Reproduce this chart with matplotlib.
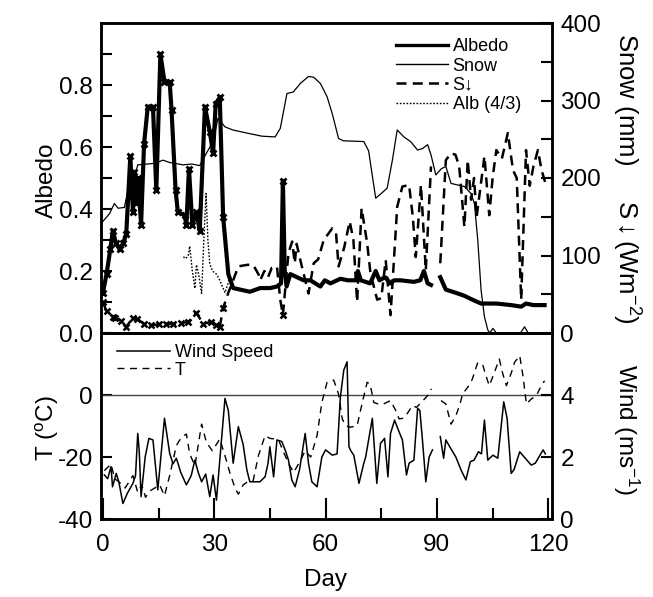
import numpy as np
import matplotlib
matplotlib.use("Agg")
import matplotlib.pyplot as plt
from matplotlib.ticker import MultipleLocator, FixedLocator

plt.rcParams['font.family'] = ['Liberation Sans', 'DejaVu Sans']
plt.rcParams['mathtext.fontset'] = 'custom'
plt.rcParams['mathtext.rm'] = 'Liberation Sans'
plt.rcParams['mathtext.it'] = 'Liberation Sans:italic'
plt.rcParams['mathtext.bf'] = 'Liberation Sans:bold'
plt.rcParams['axes.unicode_minus'] = False

nan = np.nan

# ---------------- data ----------------
alb_day = [0, 1, 2, 2.7, 3.5, 4.5, 5.5, 6.3, 7.4, 8.1, 8.5, 9.0, 9.5, 10.3, 11.1, 12.1,
           13.5, 14.4, 15.5, 16.6, 18.0, 18.5, 19.6, 20.2, 22.0, 22.5, 23.2, 24.1, 25.2,
           26.1, 27.5, 28.8, 29.7, 30.4, 31.5, 32.4, 33.8, 35.1, 37, 39.6, 42.4, 45.1,
           46.9, 48.0, 48.5, 49.0, 49.5, 50.5, 52.3, 54.1, 55.9, 58.6, 59.8, 61.3, 64,
           66, 68.3, 68.7, 69.5, 72, 73.5, 74.5, 76, 77.5, 78.5, 80.2, 83.8, 85.5, 86.5,
           87.5, 88.4, 89.5, 90.9, 92.4, 95, 97.4, 100, 101.9, 106, 110, 112.7, 114, 116, 119]
alb_val = [0.13, 0.19, 0.27, 0.33, 0.29, 0.27, 0.29, 0.32, 0.57, 0.39, 0.52, 0.42, 0.50,
           0.35, 0.61, 0.73, 0.73, 0.46, 0.90, 0.81, 0.81, 0.72, 0.46, 0.39, 0.38, 0.35,
           0.53, 0.35, 0.39, 0.33, 0.73, 0.65, 0.58, 0.74, 0.76, 0.375, 0.19, 0.145, 0.14,
           0.133, 0.145, 0.145, 0.15, 0.16, 0.49, 0.2, 0.15, 0.19, 0.18, 0.17, 0.17, 0.15,
           0.17, 0.16, 0.175, 0.17, 0.17, 0.2, 0.17, 0.16, 0.2, 0.17, 0.18, 0.16, 0.17,
           0.17, 0.165, 0.17, 0.2, 0.16, 0.155, nan, 0.18, 0.14, 0.13, 0.12, 0.105, 0.095,
           0.095, 0.09, 0.085, 0.095, 0.09, 0.09]

sw_day = [0, 1, 2.7, 3.4, 5, 6.3, 8, 9.3, 11, 13, 15, 17, 19, 21, 23, 25.2, 27, 29, 30.5,
          31.5, 32.4, 33.8, 34.8, 36.5, 39, 40.5, 42, 42.4, 43.5, 44.5, 45.5, 46.9, 47.8,
          48.5, 50, 51, 51.7, 52.2, 53.6, 55.4, 56.8, 58, 59.5, 61.8, 62.8, 63.5, 65,
          66.5, 67.5, 68.5, 69.7, 71.2, 72.1, 73.9, 75, 76.2, 77.5, 79.3, 80.7, 82.5,
          83.5, 84.3, 85.7, 87, 88.4, 89.5, 90.9, 92.4, 93.8, 95, 96, 97.4, 98.3, 99.2,
          100, 100.7, 102.8, 104.1, 105, 106, 107.5, 109.1, 110.5, 111.5, 112.7, 114,
          115, 116, 117.2, 118.2, 119.5]
sw_val = [40, 28, 21, 20, 15, 8, 19, 18, 12, 10, 11, 12, 12, 13, 14, 26, 12, 14, 10, 8,
          32, 52, 64, 86, 88, 88, 75, 68, 80, 72, 84, 86, 43, 23, 103, 118, 90, 115, 86,
          51, 90, 95, 120, 135, 130, 86, 110, 144, 120, 40, 161, 116, 77, 43, 45, 94, 23,
          163, 189, 191, 150, 98, 191, 81, 215, nan, 90, 223, 232, 230, 215, 137, 223,
          172, 200, 150, 228, 152, 200, 236, 225, 258, 210, 200, 43, 236, 190, 215, 236,
          210, 189]

snow_day = [0, 1.8, 3.1, 4.1, 5.8, 7, 8.6, 9.4, 12, 14, 16.2, 18, 21.6, 24, 26.1, 27.9,
            29.7, 31, 32.9, 35, 38.8, 42.8, 46.4, 47.8, 49.6, 51.3, 53.2, 55.4, 56.8,
            58.6, 60.4, 61.8, 63.5, 64.8, 70.3, 71.6, 73.5, 75, 76.6, 78, 79.3, 81.1,
            82.9, 84.8, 86.1, 87.5, 88.4, 89.7, 91.2, 92.4, 93.8, 97.4, 99.2, 100.1,
            101, 101.9, 102.8, 103.7, 104.2, 105.1, 106, 110, 112.5, 113.6, 114.6, 120]
snow_val = [144, 154, 167, 161, 162, 190, 202, 217, 218, 219, 223, 220, 217, 218, 216,
            232, 247, 277, 266, 262, 258, 254, 253, 264, 309, 311, 322, 331, 330, 322,
            305, 283, 251, 248, 247, 235, 174, 180, 187, 223, 262, 253, 247, 236, 238,
            243, 230, 204, 212, 215, 193, 189, 180, 167, 120, 55, 21, 4, 0, 6, 0, 0, 0,
            8, 0, 0]

a43_day = [21.7, 22.3, 23.0, 23.4, 24.1, 24.8, 25.2, 25.8, 26.6, 27.2, 27.8, 28.3, 28.8,
           29.5, 30.6, 31.5, 32.9, 34.0, 35.0]
a43_val = [0.246, 0.24, 0.25, 0.28, 0.20, 0.144, 0.22, 0.19, 0.128, 0.30, 0.45, 0.30,
           0.225, 0.20, 0.19, 0.17, 0.13, 0.17, 0.15]

wind_day = [0.4, 1.3, 2.2, 2.6, 3.6, 4.3, 5.4, 6.6, 8.1, 8.8, 9.4, 9.8, 10.3, 10.8, 11.4,
            12.4, 13.5, 14.8, 16.6, 18.0, 18.9, 19.8, 21.0, 22.5, 23.8, 24.8, 25.7,
            26.6, 27.7, 28.8, 29.7, 30.6, 32.9, 33.8, 35.1, 36.5, 37.8, 38.8, 39.6,
            42.3, 43.7, 44.5, 45.0, 46.0, 46.9, 48.2, 49.2, 50.0, 50.9, 51.8, 53.0,
            54.5, 55.4, 56.3, 57.7, 59.0, 60.0, 61.8, 63.1, 64.0, 64.9, 65.8, 66.3,
            66.8, 67.6, 69.0, 70.3, 70.8, 72.6, 73.8, 74.8, 75.9, 76.8, 77.5, 78.6,
            79.5, 80.7, 81.8, 82.5, 83.8, 84.8, 85.4, 86.1, 87.0, 87.9, 88.8, 89.8,
            90.9, 91.8, 92.4, 93.6, 95.1, 96.5, 97.8, 99.0, 100.0, 101.2, 102.0, 102.8,
            103.7, 105.1, 106.4, 108.0, 108.9, 110.0, 110.8, 112.3, 113.5, 115.4,
            116.5, 118.6, 119.2]
wind_val = [1.42, 1.3, 1.69, 1.04, 1.47, 1.2, 0.5, 0.83, 1.15, 1.4, 2.76, 2.2, 0.72, 1.3,
            2.0, 2.6, 2.55, 0.94, 3.25, 2.12, 1.78, 1.96, 1.5, 1.1, 1.4, 1.9, 1.5, 1.2,
            1.45, 0.72, 1.42, 0.61, 3.89, 3.5, 1.8, 2.98, 2.4, 1.58, 1.2, 1.2, 1.36, 1.8,
            2.33, 1.36, 2.55, 2.5, 2.2, 1.9, 1.26, 1.04, 1.6, 2.76, 1.8, 1.2, 1.04, 2.0,
            2.23, 2.06, 2.1, 3.95, 4.8, 5.07, 2.33, 2.2, 2.06, 1.15, 1.8, 2.0, 3.25, 1.15,
            2.44, 2.6, 1.36, 2.76, 3.19, 2.9, 2.55, 1.42, 1.8, 1.9, 3.57, 3.5, 2.55, 1.2,
            2.0, 2.23, nan, 2.66, 1.96, 2.55, 2.3, 2.0, 1.58, 1.26, 1.85, 1.9, 2.17, 2.1,
            3.19, 1.9, 2.06, 1.96, 3.78, 3.25, 1.47, 1.6, 2.17, 2.0, 1.74, 1.8, 2.23, 2.1]

t_day = [0.4, 2.2, 3.2, 4.5, 6, 8.1, 9.4, 10.5, 11.5, 12.6, 14, 15.3, 16.6, 18.0, 19.8,
         21.2, 22.5, 23.4, 24.8, 26.6, 27.9, 29.5, 31.5, 32.9, 34.2, 35.6, 36.5, 37.8,
         39.0, 40.5, 41.9, 43.7, 45.0, 46.4, 47.5, 48.7, 50.0, 51.4, 53.2, 54.5, 56.0,
         57.7, 59.0, 60.4, 62.2, 63.5, 64.5, 65.4, 66.7, 68.5, 69.9, 71.2, 72.0, 73.0,
         74.4, 75.6, 77.5, 78.9, 79.8, 81.0, 82.0, 83.4, 84.5, 85.7, 87.5, 88.5, 89.8,
         91.1, 92.4, 93.8, 95.1, 96.2, 96.9, 98.3, 99.5, 101.0, 102.4, 103.2, 104.1,
         105.5, 106.8, 107.7, 108.7, 110.0, 110.9, 112.3, 113.2, 114.1, 115.4, 116.8,
         118.1, 119.0]
t_val = [-24.4, -22.3, -27, -28.2, -30, -26, -31.4, -29, -33, -31, -30, -29, -32.5, -26,
         -16.3, -13.6, -12.6, -19, -22.8, -9.4, -15.3, -18, -14.2, -19.6, -25, -30, -32,
         -29, -28, -27.6, -19.6, -13.1, -14, -14.2, -15, -18.5, -22, -25, -21.2, -18,
         -20, -13.1, -2.4, 4.1, 4.8, 0.3, -7.7, -9.9, -10.4, -9.9, -2.4, 4.1, 3.5, -2.4,
         -3, -2.9, -1.8, -5, -7.7, -7.5, -6, -3.4, -4, -2.5, -0.2, 2, nan, -1.8, -2.9,
         -9.4, -6.7, -3, 0.3, 2.5, 5, 10.5, 9.5, 6.2, 3, 7.3, 11.6, 7, 3, 7, 10.5, 12.7,
         6, -2.9, -1.3, -0.2, 3, 4.6]

x_ticks = [0, 30, 60, 90, 120]

# ---------------- figure ----------------
W, H = 653, 597
fig = plt.figure(figsize=(W / 100, H / 100), dpi=100)
L, R = 101 / W, 552 / W
ax1 = fig.add_axes([L, 1 - 333 / H, R - L, (333 - 23) / H])
ax2 = fig.add_axes([L, 1 - 519 / H, R - L, (519 - 333) / H], sharex=ax1)
ax1r = ax1.twinx()
ax2r = ax2.twinx()

FS = 17.5
spine_w = 1.8

# top panel
ax1.plot(alb_day, alb_val, color='black', lw=3.0, marker='x', ms=5, mew=2,
         markevery=[i for i, d in enumerate(alb_day) if d <= 32.5 or d == 48.5],
         zorder=5)
ax1.plot([], [], color='black', lw=2.4, label='Albedo')
ax1.plot([], [], color='black', lw=1.0, label='Snow')
ax1.plot([], [], color='black', lw=1.8, ls=(0, (4, 2.5)), label='S↓')
ax1.plot(a43_day, a43_val, color='black', lw=1.0, ls=(0, (1.2, 1.2)), label='Alb (4/3)')
ax1r.plot(snow_day, snow_val, color='black', lw=0.9)
ax1r.plot(sw_day, sw_val, color='black', lw=1.8, ls=(0, (4, 2.5)), marker='x', ms=5, mew=1.8,
          markevery=[i for i, d in enumerate(sw_day) if d <= 32.5 or d == 48.5])

ax1.set_xlim(-0.5, 121)
ax1.set_ylim(0, 1.0)
ax1r.set_ylim(0, 400)
ax1.yaxis.set_major_locator(FixedLocator([0, 0.2, 0.4, 0.6, 0.8]))
ax1.yaxis.set_minor_locator(FixedLocator([0.1, 0.3, 0.5, 0.7, 0.9]))
ax1.set_yticklabels(['0.0', '0.2', '0.4', '0.6', '0.8'])
ax1r.yaxis.set_major_locator(FixedLocator([0, 100, 200, 300, 400]))
ax1r.yaxis.set_minor_locator(FixedLocator([50, 150, 250, 350]))

ax1.legend(loc='upper right', bbox_to_anchor=(0.955, 0.985), frameon=False,
           fontsize=13, handlelength=2.9, handletextpad=0.25, labelspacing=0.12,
           borderaxespad=0.2)

# bottom panel
ax2.axhline(0, color='#444444', lw=1.0)
wl, = ax2r.plot(wind_day, wind_val, color='black', lw=1.1, label='Wind Speed')
tl, = ax2.plot(t_day, t_val, color='black', lw=1.0, ls=(0, (5, 4)), label='T')
ax2.set_ylim(-40, 20)
ax2r.set_ylim(0, 6)
ax2.set_yticks([-40, -20, 0])
ax2r.set_yticks([0, 2, 4])
ax2.set_xticks(x_ticks)
ax2.xaxis.set_minor_locator(MultipleLocator(15))

ax2.legend([wl, tl], ['Wind Speed', 'T'], loc='upper left', bbox_to_anchor=(0.012, 1.0),
           frameon=False, fontsize=13, handlelength=2.9, handletextpad=0.3,
           labelspacing=0.05, borderaxespad=0.2)

# ticks & spines
for a in (ax1, ax1r, ax2, ax2r):
    for s in a.spines.values():
        s.set_linewidth(spine_w)
    a.tick_params(which='both', direction='in', width=1.5, length=8, labelsize=FS)
ax1.tick_params(axis='x', which='both', bottom=False, labelbottom=False)
ax2.tick_params(axis='x', which='major', length=15, pad=11)
ax2.tick_params(axis='x', which='minor', length=8)
for a in (ax1, ax2, ax1r, ax2r):
    a.tick_params(axis='y', pad=6)
for a in (ax1r, ax2r):
    a.tick_params(axis='x', which='both', bottom=False, top=False)

# labels
fig.text(47 / W, 1 - 180 / H, 'Albedo', rotation=90, ha='center', va='center', fontsize=FS)
fig.text(47 / W, 1 - 428 / H, 'T ($^{\\mathrm{o}}$C)', rotation=90, ha='center', va='center', fontsize=FS)
fig.text(626 / W, 1 - 178 / H, 'Snow (mm)     S$\\downarrow$(Wm$^{-2}$)', rotation=-90,
         ha='center', va='center', fontsize=18.5)
fig.text(626 / W, 1 - 430 / H, 'Wind (ms$^{-1}$)', rotation=-90, ha='center', va='center', fontsize=FS)
fig.text(326 / W, 1 - 580 / H, 'Day', ha='center', va='center', fontsize=FS)

fig.savefig('out.png', dpi=100)
